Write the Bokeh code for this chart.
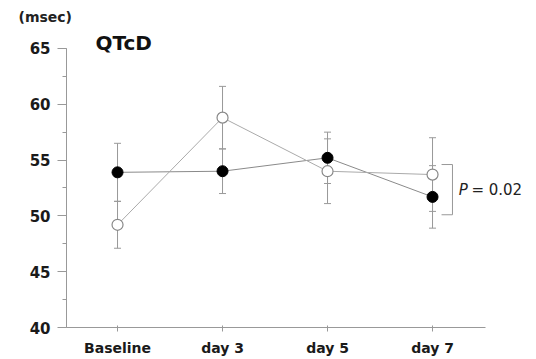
from bokeh.plotting import figure
from bokeh.models import Range1d, FixedTicker, SingleIntervalTicker, ColumnDataSource, Whisker
from bokeh.core.properties import value
from bokeh.embed import file_html
from bokeh.resources import INLINE

# ---- data ----
categories = ["Baseline", "day 3", "day 5", "day 7"]
xpos = [0, 1, 2, 3]
filled_mean = [53.9, 54.0, 55.2, 51.7]
filled_sd = [2.6, 2.0, 2.3, 2.8]
open_mean = [49.2, 58.8, 54.0, 53.7]
open_sd = [2.1, 2.8, 2.9, 3.3]
y_ticks = [40, 45, 50, 55, 60, 65]
bracket_y = [54.6, 50.1]
p_text = "= 0.02"

GRAY = "#999999"
FONT = "DejaVu Sans"

p = figure(width=528, height=358, output_backend="svg", toolbar_location=None,
           x_range=Range1d(-0.486, 3.914), y_range=Range1d(40, 40 + 302 / 11.2),
           min_border_left=66, min_border_right=0, min_border_top=26, min_border_bottom=30,
           title="(msec)")
p.outline_line_color = None
p.xgrid.visible = False
p.ygrid.visible = False
p.background_fill_color = "white"

p.title.align = "left"
p.title.offset = -48
p.title.text_font = FONT
p.title.text_font_style = "bold"
p.title.text_font_size = "14px"
p.title.text_color = "#222222"
p.title.standoff = 3

# axes
p.xaxis.ticker = FixedTicker(ticks=xpos)
p.xaxis.major_label_overrides = {x: c for x, c in zip(xpos, categories)}
p.xaxis.bounds = (-0.486, 3.5)
p.yaxis.ticker = SingleIntervalTicker(interval=5, num_minor_ticks=2)
p.yaxis.bounds = (y_ticks[0], y_ticks[-1])
for ax in (p.xaxis, p.yaxis):
    ax.axis_line_color = GRAY
    ax.major_tick_line_color = GRAY
    ax.minor_tick_line_color = GRAY
    ax.major_label_text_font = FONT
    ax.major_label_text_font_style = "bold"
    ax.major_label_text_color = "#1a1a1a"
p.xaxis.major_tick_in = 2
p.xaxis.major_tick_out = 4
p.xaxis.minor_tick_line_color = None
p.xaxis.major_label_standoff = 8
p.xaxis.major_label_text_font_size = "14px"
p.yaxis.major_tick_in = 0
p.yaxis.major_tick_out = 9
p.yaxis.minor_tick_in = 0
p.yaxis.minor_tick_out = 4
p.yaxis.major_label_standoff = 7
p.yaxis.major_label_text_font_size = "15px"

# lines
p.line(xpos, filled_mean, line_color="#8a8a8a", line_width=1)
p.line(xpos, open_mean, line_color="#aaaaaa", line_width=1)

# error bars
for mean, sd in ((filled_mean, filled_sd), (open_mean, open_sd)):
    src = ColumnDataSource(dict(x=xpos, lo=[m - s for m, s in zip(mean, sd)],
                                hi=[m + s for m, s in zip(mean, sd)]))
    w = Whisker(source=src, base="x", lower="lo", upper="hi", dimension="height",
                line_color=GRAY, line_width=1)
    w.upper_head.size = 7
    w.lower_head.size = 7
    w.upper_head.line_color = GRAY
    w.lower_head.line_color = GRAY
    p.add_layout(w)

# markers
p.scatter(xpos, open_mean, size=11, fill_color="white", line_color="#888888", line_width=1.2)
p.scatter(xpos, filled_mean, size=11, fill_color="black", line_color="black")

# bracket
bx0, bx1 = 3.086, 3.19
p.segment(x0=[bx0, bx1, bx0], y0=[bracket_y[0], bracket_y[0], bracket_y[1]],
          x1=[bx1, bx1, bx1], y1=[bracket_y[0], bracket_y[1], bracket_y[1]],
          line_color=GRAY, line_width=1)

# texts
p.text(x=[3.25], y=[52.3], text=["P"], text_font=value(FONT), text_font_style="italic",
       text_font_size="15px", text_baseline="middle", text_color="#222222")
p.text(x=[3.37], y=[52.3], text=[p_text], text_font=value(FONT),
       text_font_size="15px", text_baseline="middle", text_color="#222222")
p.text(x=[-0.21], y=[65.45], text=["QTcD"], text_font=value(FONT), text_font_style="bold",
       text_font_size="20px", text_baseline="middle", text_color="#111111")

open("out.html", "w").write(file_html(p, INLINE))
